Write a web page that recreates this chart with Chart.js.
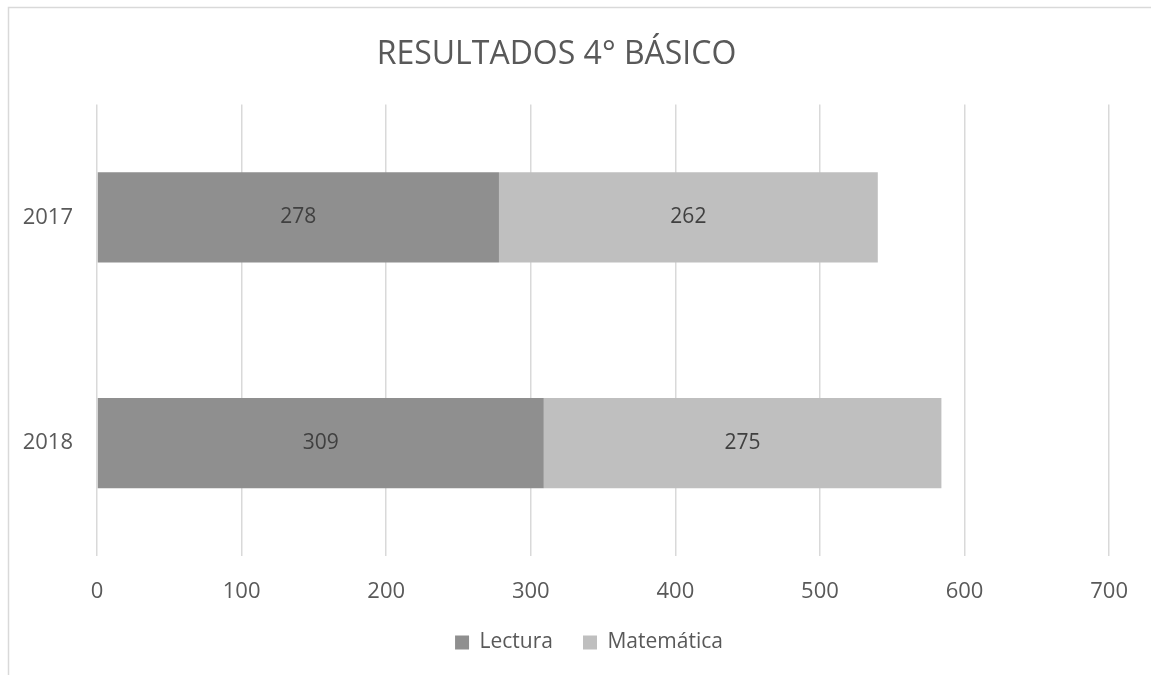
<!DOCTYPE html>
<html>
<head>
<meta charset="utf-8">
<script src="https://cdn.jsdelivr.net/npm/chart.js@4/dist/chart.umd.min.js"></script>
<style>
  html, body { margin: 0; padding: 0; background: #fff; }
  #wrap { width: 1151px; height: 675px; }
</style>
</head>
<body>
<div id="wrap"><canvas id="chart"></canvas></div>
<script>
const years = ['2017', '2018'];
const lectura = [278, 309];
const matematica = [262, 275];
const xTicks = [0, 100, 200, 300, 400, 500, 600, 700];

const FONT = "'Open Sans', sans-serif";
const TEXT = '#595959';

// little frame line at top and left, like the office chart box
const framePlugin = {
  id: 'frame',
  beforeDraw(c) {
    const ctx = c.ctx;
    ctx.save();
    ctx.fillStyle = '#fff';
    ctx.fillRect(0, 0, c.width, c.height);
    ctx.strokeStyle = '#d9d9d9';
    ctx.lineWidth = 1.5;
    ctx.beginPath();
    ctx.moveTo(8.5, c.height);
    ctx.lineTo(8.5, 7.5);
    ctx.lineTo(c.width, 7.5);
    ctx.stroke();
    ctx.restore();
  },
  // the original legend sits a bit right of the middle
  afterLayout(c) {
    if (c.legend) c.legend.left += 65;
  }
};

// value labels in the middle of each bar piece
const labelPlugin = {
  id: 'barLabels',
  afterDatasetsDraw(c) {
    const ctx = c.ctx;
    ctx.save();
    ctx.font = '21px ' + FONT;
    ctx.fillStyle = '#404040';
    ctx.textAlign = 'center';
    ctx.textBaseline = 'middle';
    c.data.datasets.forEach((ds, i) => {
      c.getDatasetMeta(i).data.forEach((bar, j) => {
        const p = bar.getProps(['x', 'y', 'base'], true);
        ctx.fillText(ds.data[j], (p.x + p.base) / 2, p.y);
      });
    });
    ctx.restore();
  }
};

new Chart(document.getElementById('chart'), {
  type: 'bar',
  data: {
    labels: years,
    datasets: [
      { label: 'Lectura', data: lectura, backgroundColor: '#8f8f8f', borderWidth: 0 },
      { label: 'Matemática', data: matematica, backgroundColor: '#bfbfbf', borderWidth: 0 }
    ]
  },
  options: {
    indexAxis: 'y',
    responsive: true,
    maintainAspectRatio: false,
    animation: false,
    datasets: { bar: { barPercentage: 0.8, categoryPercentage: 0.5 } },
    layout: { padding: { top: 18, right: 38, left: 0, bottom: 12 } },
    scales: {
      x: {
        stacked: true,
        min: 0, max: 700,
        afterBuildTicks(s) { s.ticks = xTicks.map(v => ({ value: v })); },
        afterFit(s) { s.height = 46; },
        grid: { color: '#d9d9d9', lineWidth: 1.5, drawTicks: false },
        border: { display: false },
        ticks: { color: TEXT, font: { family: FONT, size: 22 }, padding: 23 }
      },
      y: {
        stacked: true,
        afterFit(s) { s.width = 97; },
        grid: { display: false, drawTicks: false },
        border: { display: false },
        ticks: { color: TEXT, font: { family: FONT, size: 22 }, padding: 24 }
      }
    },
    plugins: {
      title: {
        display: true,
        text: 'RESULTADOS 4° BÁSICO',
        color: TEXT,
        font: { family: FONT, size: 32, weight: 'normal' },
        padding: { top: 18, bottom: 30 }
      },
      legend: {
        position: 'bottom',
        labels: {
          color: TEXT,
          font: { family: FONT, size: 21 },
          boxWidth: 14, boxHeight: 14,
          padding: 30
        }
      },
      tooltip: { enabled: false }
    }
  },
  plugins: [framePlugin, labelPlugin]
});
</script>
</body>
</html>
